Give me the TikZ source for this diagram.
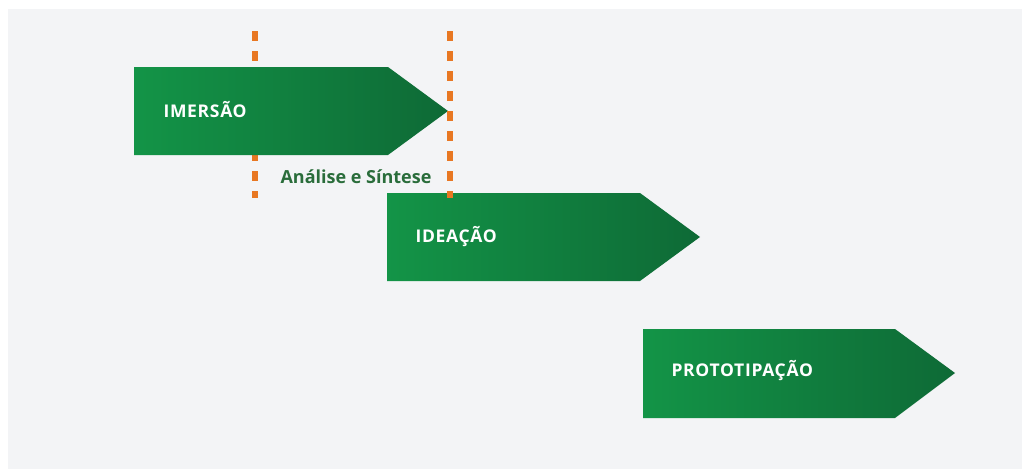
\documentclass[tikz,border=0pt]{standalone}
\usepackage{fontspec}
\setmainfont{Open Sans}
\begin{document}
\begin{tikzpicture}[x=1pt,y=-1pt,
  bgfill/.style={fill=bggray},
  phase/.style={left color=gleft,right color=gright,draw=none},
  phaselabel/.style={anchor=west,text=white,font=\bfseries\fontsize{17.5}{20}\selectfont\addfontfeature{LetterSpace=4}},
  divider/.style={draw=dashorange,line width=6pt,dash pattern=on 10pt off 10pt},
  note/.style={text=notegreen,font=\bfseries\fontsize{18}{20}\selectfont}]
\definecolor{bggray}{HTML}{F3F4F6}
\definecolor{gleft}{HTML}{139447}
\definecolor{gright}{HTML}{0E6A36}
\definecolor{dashorange}{HTML}{E87722}
\definecolor{notegreen}{HTML}{2A6D3B}
\useasboundingbox (0,0) rectangle (1024,469);
\fill[white] (0,0) rectangle (1024,469);
\path[bgfill] (8,9) rectangle (1022,469);
% left divider (behind)
\coordinate (d1top) at (255,31);
\coordinate (d1bot) at (255,198);
\draw[divider] (d1top) -- (d1bot);
% phases
\path[phase] (134,67) -- (388,67) -- (448,111) -- (388,155) -- (134,155) -- cycle;
\node[phaselabel] (imersao) at (160,110) {IMERSÃO};
\path[phase] (387,193) -- (640,193) -- (700,237) -- (640,281) -- (387,281) -- cycle;
\node[phaselabel] (ideacao) at (412,237) {IDEAÇÃO};
\path[phase] (643,329) -- (895,329) -- (955,373) -- (895,418) -- (643,418) -- cycle;
\node[phaselabel] (prototipacao) at (668,371) {PROTOTIPAÇÃO};
% right divider (front)
\coordinate (d2top) at (450,31);
\coordinate (d2bot) at (450,198);
\draw[divider] (d2top) -- (d2bot);
\node[note,anchor=center] (analise) at (356,177) {Análise e Síntese};
\end{tikzpicture}
\end{document}
